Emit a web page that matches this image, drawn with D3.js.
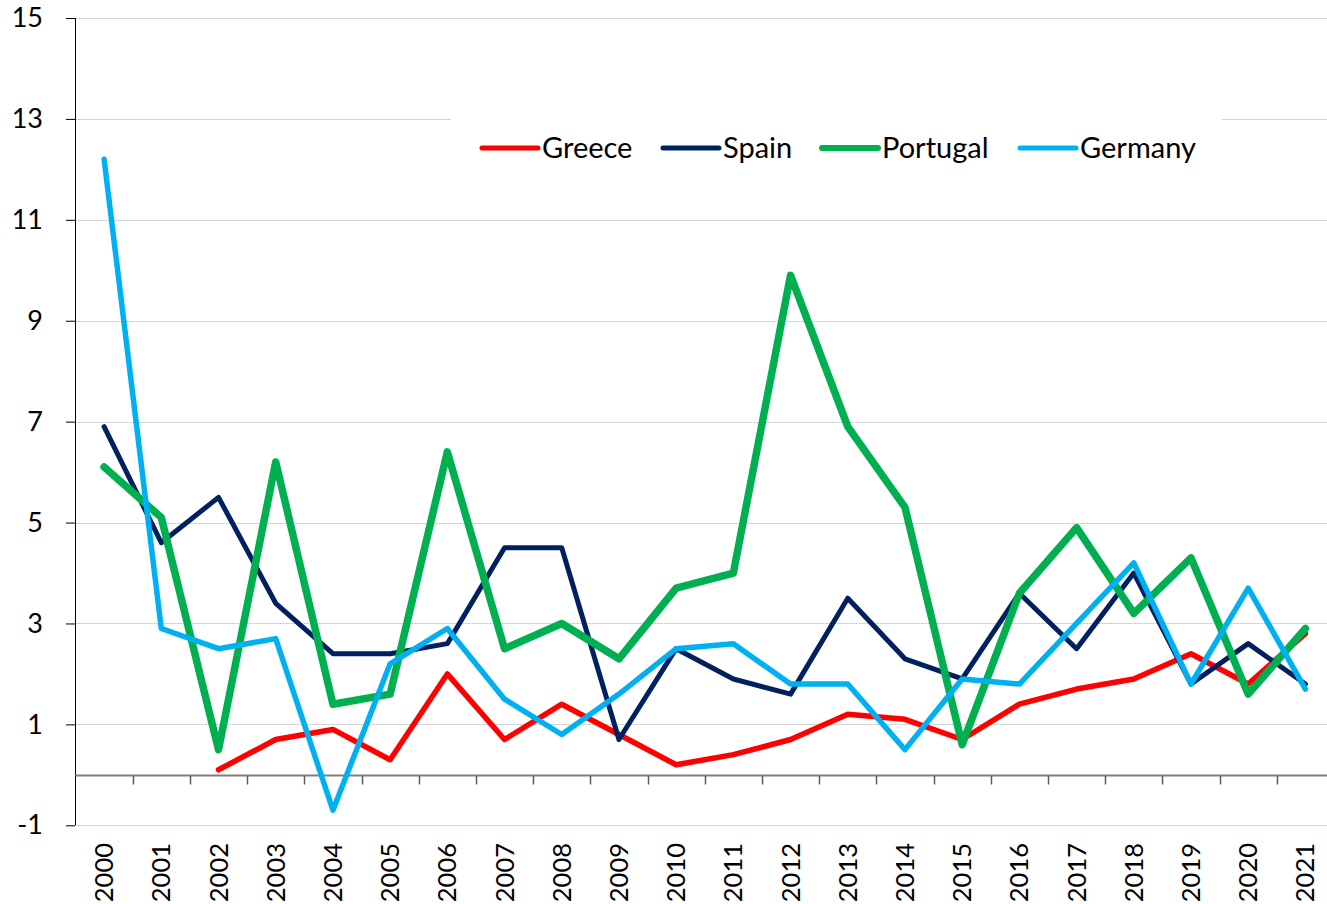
<!DOCTYPE html>
<html>
<head>
<meta charset="utf-8">
<script src="https://cdn.jsdelivr.net/npm/d3@7"></script>
<style>
  body { margin: 0; background: #fff; }
  text { font-family: Lato, "Open Sans", sans-serif; fill: #000; }
</style>
</head>
<body>
<svg id="chart" width="1327" height="904"></svg>
<script>
var years = ["2000","2001","2002","2003","2004","2005","2006","2007","2008","2009","2010",
             "2011","2012","2013","2014","2015","2016","2017","2018","2019","2020","2021"];

// Greece has no value for 2000-2001
var greece   = [null, null, 0.1, 0.7, 0.9, 0.3, 2.0, 0.7, 1.4, 0.8, 0.2, 0.4, 0.7, 1.2, 1.1, 0.7, 1.4, 1.7, 1.9, 2.4, 1.8, 2.8];
var spain    = [6.9, 4.6, 5.5, 3.4, 2.4, 2.4, 2.6, 4.5, 4.5, 0.7, 2.5, 1.9, 1.6, 3.5, 2.3, 1.9, 3.6, 2.5, 4.0, 1.8, 2.6, 1.8];
var portugal = [6.1, 5.1, 0.5, 6.2, 1.4, 1.6, 6.4, 2.5, 3.0, 2.3, 3.7, 4.0, 9.9, 6.9, 5.3, 0.6, 3.6, 4.9, 3.2, 4.3, 1.6, 2.9];
var germany  = [12.2, 2.9, 2.5, 2.7, -0.7, 2.2, 2.9, 1.5, 0.8, 1.6, 2.5, 2.6, 1.8, 1.8, 0.5, 1.9, 1.8, 3.0, 4.2, 1.8, 3.7, 1.7];

var yTicks = [-1, 1, 3, 5, 7, 9, 11, 13, 15];

var series = [
  {name: "Greece",   values: greece,   color: "#FF0000", width: 5.5},
  {name: "Spain",    values: spain,    color: "#002060", width: 5},
  {name: "Portugal", values: portugal, color: "#00B050", width: 7.5},
  {name: "Germany",  values: germany,  color: "#00B0F0", width: 5.5}
];

var svg = d3.select("#chart");
var plotLeft = 75.5, plotRight = 1334, plotTop = 18, plotBottom = 825.3;

var x = d3.scaleBand().domain(years).range([plotLeft, plotRight]);
var y = d3.scaleLinear().domain([-1, 15]).range([plotBottom, plotTop]);

// gridlines
svg.append("g")
  .selectAll("line")
  .data(yTicks)
  .enter().append("line")
  .attr("x1", plotLeft).attr("x2", 1327)
  .attr("y1", function(d) { return Math.round(y(d)) + 0.5; })
  .attr("y2", function(d) { return Math.round(y(d)) + 0.5; })
  .attr("stroke", "#c0c0c0")
  .attr("stroke-width", 1)
  .attr("stroke-dasharray", "2,1");

// y axis
var yAxis = svg.append("g")
  .attr("transform", "translate(" + Math.floor(plotLeft) + ",0)")
  .call(d3.axisLeft(y).tickValues(yTicks).tickSize(9).tickPadding(23)
    .tickFormat(function(d) { return String(d); }));
yAxis.select(".domain").attr("stroke", "#000").attr("d", "M0.5," + plotTop + "V" + plotBottom);
yAxis.selectAll(".tick line").attr("stroke", "#000");
yAxis.selectAll("text").style("font-size", "27px").style("font-family", "Lato, sans-serif");

// x axis at zero
var y0 = Math.round(y(0)) + 0.5;
var xg = svg.append("g");
xg.append("line")
  .attr("x1", plotLeft).attr("x2", 1327)
  .attr("y1", y0).attr("y2", y0)
  .attr("stroke", "#7f7f7f").attr("stroke-width", 2);
xg.selectAll(".xt")
  .data(years.slice(1))
  .enter().append("line")
  .attr("class", "xt")
  .attr("x1", function(d) { return Math.round(x(d)) + 0.5; })
  .attr("x2", function(d) { return Math.round(x(d)) + 0.5; })
  .attr("y1", y0).attr("y2", y0 + 9)
  .attr("stroke", "#595959").attr("stroke-width", 1.5);

// year labels
svg.append("g")
  .selectAll("text")
  .data(years)
  .enter().append("text")
  .attr("transform", function(d) {
    return "translate(" + (x(d) + x.bandwidth() / 2 + 9) + ",843) rotate(-90)";
  })
  .attr("text-anchor", "end")
  .style("font-size", "25.5px")
  .text(function(d) { return d; });

// lines
var line = d3.line()
  .defined(function(d) { return d != null; })
  .x(function(d, i) { return x(years[i]) + x.bandwidth() / 2; })
  .y(function(d) { return y(d); });

svg.append("g")
  .selectAll("path")
  .data(series)
  .enter().append("path")
  .attr("d", function(s) { return line(s.values); })
  .attr("fill", "none")
  .attr("stroke", function(s) { return s.color; })
  .attr("stroke-width", function(s) { return s.width; })
  .attr("stroke-linejoin", "round")
  .attr("stroke-linecap", "round");

// legend
var legend = svg.append("g");
legend.append("rect")
  .attr("x", 451).attr("y", 105).attr("width", 771).attr("height", 80)
  .attr("fill", "#fff");
var legX = [482, 663, 822, 1020];
var items = legend.selectAll(".item")
  .data(series)
  .enter().append("g")
  .attr("transform", function(s, i) { return "translate(" + legX[i] + ",148)"; });
items.append("line")
  .attr("x1", 0).attr("x2", 56)
  .attr("stroke", function(s) { return s.color; })
  .attr("stroke-width", function(s) { return s.width > 7 ? 6 : 5; })
  .attr("stroke-linecap", "round");
items.append("text")
  .attr("x", 60).attr("dy", "0.35em")
  .style("font-size", "29px")
  .text(function(s) { return s.name; });
</script>
</body>
</html>
